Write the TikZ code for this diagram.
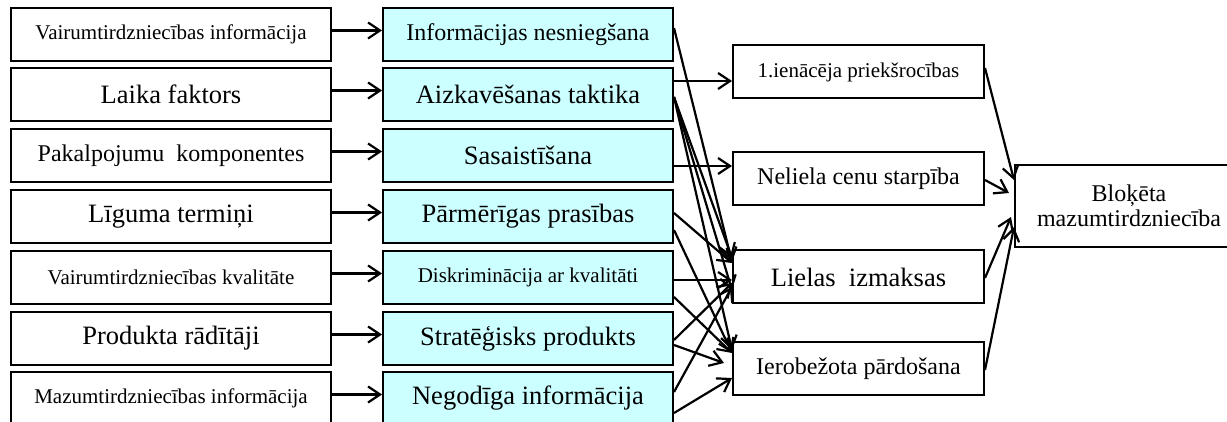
\documentclass[tikz,border=0pt]{standalone}
\usepackage{fontspec}
\setmainfont{Liberation Serif}
\usetikzlibrary{arrows.meta}
\definecolor{cyanfill}{HTML}{CCFFFF}
\begin{document}
\begin{tikzpicture}[x=1pt,y=-1pt,
  box/.style={draw=black, line width=2pt, minimum height=53pt, inner sep=0pt, align=center},
  lbox/.style={box, minimum width=320pt},
  mbox/.style={box, fill=cyanfill, minimum width=290pt},
  rbox/.style={box, minimum width=251pt, minimum height=53pt},
  fbox/.style={box, minimum width=228pt, minimum height=82pt},
  fs/.style={font=\fontsize{21}{25}\selectfont},
  fm/.style={font=\fontsize{24}{25}\selectfont},
  fl/.style={font=\fontsize{26.5}{30}\selectfont},
  arr/.style={line width=2.2pt, -{Straight Barb[length=12pt,width=16pt]}}
]
\useasboundingbox (0,0) rectangle (1227,422);
% left column
\node[lbox,fs] (l1) at (171,34.5) {Vairumtirdzniecības informācija};
\node[lbox,fl] (l2) at (171,94.5) {Laika faktors};
\node[lbox,fm] (l3) at (171,155.5) {Pakalpojumu~ komponentes};
\node[lbox,fl] (l4) at (171,216.5) {Līguma termiņi};
\node[lbox,fs] (l5) at (171,277.5) {Vairumtirdzniecības kvalitāte};
\node[lbox,fl] (l6) at (171,338.5) {Produkta rādītāji};
\node[lbox,fs] (l7) at (171,398.5) {Mazumtirdzniecības informācija};
% middle column
\node[mbox,fm] (m1) at (528,34.5) {Informācijas nesniegšana};
\node[mbox,fl] (m2) at (528,94.5) {Aizkavēšanas taktika};
\node[mbox,fl] (m3) at (528,155.5) {Sasaistīšana};
\node[mbox,fl] (m4) at (528,216.5) {Pārmērīgas prasības};
\node[mbox,fs] (m5) at (528,277.5) {Diskriminācija ar kvalitāti};
\node[mbox,fl] (m6) at (528,338.5) {Stratēģisks produkts};
\node[mbox,fl] (m7) at (528,398.5) {Negodīga informācija};
% right column
\node[rbox,fs] (r1) at (858.5,72) {1.ienācēja priekšrocības};
\node[rbox,fm] (r2) at (858.5,178.5) {Neliela cenu starpība};
\node[rbox,fl] (r3) at (858.5,277) {Lielas~ izmaksas};
\node[rbox,fm] (r4) at (858.5,368.5) {Ierobežota pārdošana};
% final
\node[fbox,fm] (f) at (1129,206) {Bloķēta\\mazumtirdzniecība};
% left -> middle
\foreach \i in {1,...,7}{
  \draw[arr] ([yshift=4pt]l\i.east) -- ([yshift=4pt]m\i.west);
}
% middle -> right
\draw[arr] ([yshift=6.5pt]m1.east) -- ([yshift=15pt]r3.west);
\draw[arr] ([yshift=13.5pt]m2.east) -- ([yshift=13.5pt]m2.east -| r1.west);
\draw[arr] ([yshift=-2.5pt]m2.east) -- ([yshift=19pt]r3.west);
\draw[arr] ([yshift=-2.5pt]m2.east) -- ([yshift=-13pt]r3.west);
\draw[arr] ([yshift=-2.5pt]m2.east) -- ([yshift=18.5pt]r4.west);
\draw[arr] ([yshift=-10.5pt]m3.east) -- ([yshift=-10.5pt]m3.east -| r2.west);
\draw[arr] ([yshift=3.5pt]m4.east) -- ([yshift=14pt]r3.west);
\draw[arr] ([yshift=-13.5pt]m4.east) -- ([yshift=15.5pt]r4.west);
\draw[arr] ([yshift=-2.5pt]m5.east) -- ([yshift=-2.5pt]m5.east -| r3.west);
\draw[arr] ([yshift=-19.5pt]m5.east) -- ([yshift=15.5pt]r4.west);
\draw[arr] ([yshift=-1.5pt]m6.east) -- ([yshift=-6pt]r3.west);
\draw[arr] ([yshift=-6.5pt]m6.east) -- ([yshift=5.5pt,xshift=-8pt]r4.west);
\draw[arr] ([yshift=6.5pt]m7.east) -- ([yshift=-10pt]r3.west);
\draw[arr] ([yshift=-14.5pt]m7.east) -- ([yshift=-9.5pt]r4.west);
% right -> final
\draw[arr] ([yshift=4pt]r1.east) -- ([yshift=26pt]f.west);
\draw[arr] ([yshift=-1.5pt]r2.east) -- ([yshift=13pt,xshift=-5pt]f.west);
\draw[arr] ([yshift=-1pt]r3.east) -- ([yshift=-11pt,xshift=-3pt]f.west);
\draw[arr] ([yshift=-1.5pt]r4.east) -- ([yshift=-21pt]f.west);
\end{tikzpicture}
\end{document}
